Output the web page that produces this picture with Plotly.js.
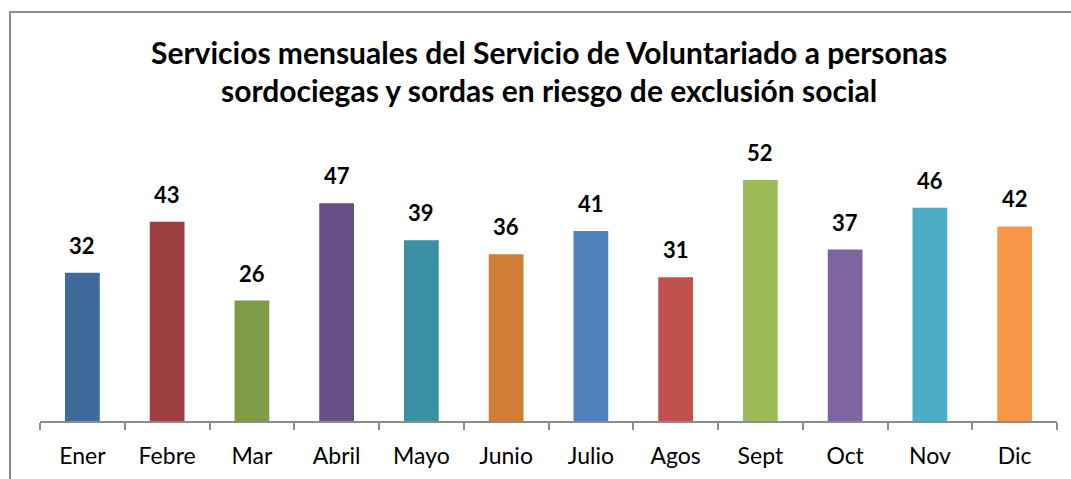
<!DOCTYPE html>
<html>
<head>
<meta charset="utf-8">
<script src="https://cdn.plot.ly/plotly-3.0.1.min.js"></script>
<style>
html,body{margin:0;padding:0;background:#fff;}
#chart{width:1071px;height:479px;}
</style>
</head>
<body>
<div id="chart"></div>
<script>
const months = ["Ener","Febre","Mar","Abril","Mayo","Junio","Julio","Agos","Sept","Oct","Nov","Dic"];
const services = [32,43,26,47,39,36,41,31,52,37,46,42];
const barColors = ["#3E6A9C","#9E3F3F","#7E9B48","#684F86","#3A8FA3","#D17D37","#4F81BD","#C0504D","#9BBB59","#8064A2","#4BACC6","#F79646"];
const titleLines = ["Servicios mensuales del Servicio de Voluntariado a personas",
                    "sordociegas y sordas en riesgo de exclusión social"];

const FONT = "Lato, 'Open Sans', sans-serif";

const trace = {
  type: "bar",
  x: months,
  y: services,
  marker: {color: barColors, line: {width: 0}},
  hoverinfo: "x+y"
};

const labels = months.map((m, i) => ({
  x: m, y: services[i], xref: "x", yref: "y",
  text: String(services[i]), showarrow: false,
  yanchor: "bottom", yshift: 12,
  font: {family: FONT, size: 22, color: "#000", weight: "bold"}
}));

const titleAnn = titleLines.map((t, i) => ({
  text: t, xref: "paper", yref: "paper", x: 0.5, y: [1.327, 1.191][i],
  xanchor: "center", yanchor: "middle", showarrow: false,
  font: {family: FONT, size: 30, color: "#000", weight: "bold"}
}));

const layout = {
  width: 1071, height: 479,
  margin: {l: 40, r: 14, t: 143, b: 58},
  paper_bgcolor: "#fff", plot_bgcolor: "#fff",
  showlegend: false,
  bargap: 0.59,
  xaxis: {
    type: "category",
    showline: true, linecolor: "#8c8c8c", linewidth: 2,
    ticks: "outside", tickson: "boundaries", ticklen: 7, tickcolor: "#8c8c8c", tickwidth: 2,
    tickfont: {family: FONT, size: 23, color: "#000"},
    ticklabelstandoff: 13,
    showgrid: false, zeroline: false
  },
  yaxis: {
    range: [0, 60], visible: false, showgrid: false, zeroline: false
  },
  annotations: titleAnn.concat(labels),
  shapes: [{
    type: "path", xref: "paper", yref: "paper",
    path: "M -0.0295,-0.3 L -0.0295,1.471 L 1.1,1.471",
    line: {color: "#8c8c8c", width: 2}
  }]
};

Plotly.newPlot("chart", [trace], layout, {displayModeBar: false, staticPlot: true});
</script>
</body>
</html>
